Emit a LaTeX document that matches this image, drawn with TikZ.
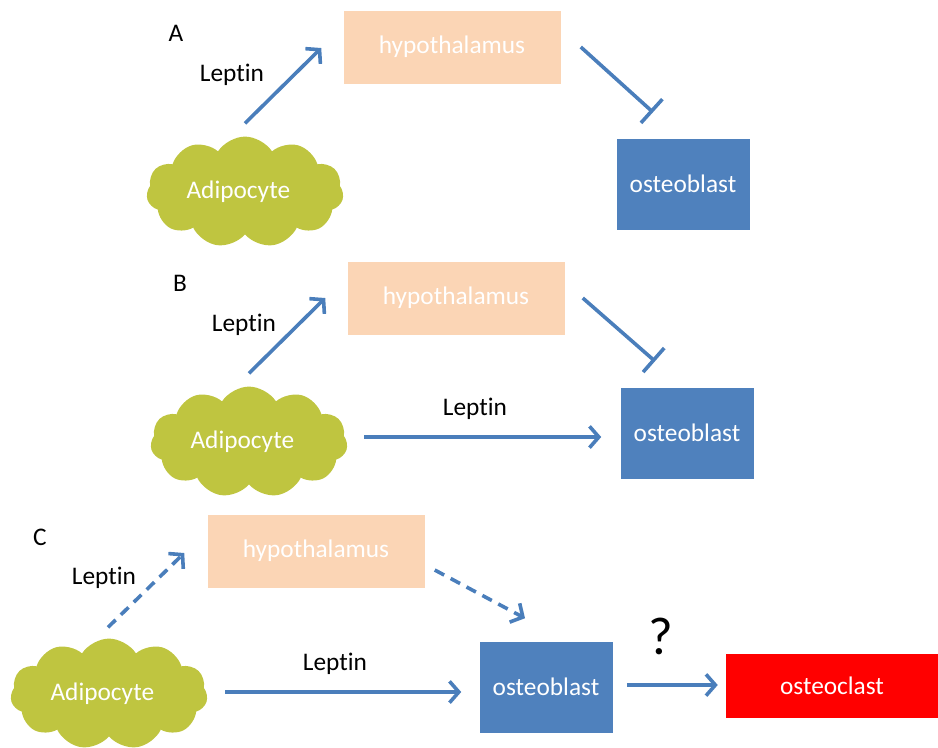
\documentclass[tikz,border=0pt]{standalone}
\usepackage{fontspec}
\setmainfont{Carlito}[Ligatures=NoCommon]
\usetikzlibrary{arrows.meta,shapes.symbols}

\definecolor{hypofill}{RGB}{251,213,181}
\definecolor{blastfill}{RGB}{79,129,189}
\definecolor{adifill}{RGB}{191,197,64}
\definecolor{arrowcol}{RGB}{74,126,187}

\begin{document}
\begin{tikzpicture}[x=0.75pt,y=-0.75pt,
  >={Straight Barb[length=7pt,width=16pt]},
  every node/.style={font=\fontsize{19}{23}\selectfont},
  hypo/.style={rectangle,fill=hypofill,text=white,
    minimum width=162.75pt,minimum height=54.75pt},
  blast/.style={rectangle,fill=blastfill,text=white,
    minimum width=99.75pt,minimum height=68.25pt},
  clast/.style={rectangle,fill=red,text=white,
    minimum width=159pt,minimum height=48pt},
  adipo/.style={cloud,cloud puffs=11,cloud puff arc=115,aspect=1.86,
    fill=adifill,text=white,inner sep=0pt,
    minimum width=147.75pt,minimum height=79.5pt},
  arr/.style={->,draw=arrowcol,line width=2.7pt},
  block/.style={-{Bar[width=24pt]},draw=arrowcol,line width=2.7pt},
  dash arr/.style={arr,dash pattern=on 8pt off 5.5pt}
]
  \useasboundingbox (0,0) rectangle (938,747);

  % A
  \node (labA) at (176,33) {A};
  \node[hypo] (hypA) at (452,47) {hypothalamus};
  \node[blast] (obA) at (683,184) {osteoblast};
  \node[adipo] (adiA) at (245,192) {Adipocyte\hspace*{10pt}};
  \node (lepA) at (232,75) {Leptin};
  \draw[arr] ([shift={(0,-13)}]adiA.north) -- ([shift={(-22,1)}]hypA.west);
  \draw[block] ([shift={(20,0)}]hypA.east) -- ([shift={(-30,-26)}]obA.north);

  % B
  \node (labB) at (180,283) {B};
  \node[hypo] (hypB) at (456,298) {hypothalamus};
  \node[blast] (obB) at (687,433) {osteoblast};
  \node[adipo] (adiB) at (249,442) {Adipocyte\hspace*{10pt}};
  \node (lepB) at (244,325) {Leptin};
  \node (lepBB) at (475,409) {Leptin};
  \draw[arr] ([shift={(0,-13)}]adiB.north) -- ([shift={(-22,0)}]hypB.west);
  \draw[block] ([shift={(18,0)}]hypB.east) -- ([shift={(-32,-26)}]obB.north);
  \draw[arr] ([shift={(17,-5)}]adiB.east) -- ([shift={(-19,4)}]obB.west);

  % C
  \node (labC) at (40,537) {C};
  \node[hypo] (hypC) at (316,551) {hypothalamus};
  \node[blast] (obC) at (546,687) {osteoblast};
  \node[clast] (ocC) at (832,686) {osteoclast};
  \node[adipo] (adiC) at (109,694) {Adipocyte\hspace*{10pt}};
  \node (lepC) at (104,578) {Leptin};
  \node (lepCC) at (335,664) {Leptin};
  \node[font=\fontsize{40}{44}\selectfont] (qC) at (661,636) {?};
  \draw[dash arr] ([shift={(-1,-11)}]adiC.north) -- ([shift={(-23,2)}]hypC.west);
  \draw[dash arr] ([shift={(10,19)}]hypC.east) -- ([shift={(-21,-23)}]obC.north);
  \draw[arr] ([shift={(18,-2)}]adiC.east) -- ([shift={(-18,5)}]obC.west);
  \draw[arr] ([shift={(14,-2)}]obC.east) -- ([shift={(-8,-1)}]ocC.west);
\end{tikzpicture}
\end{document}
